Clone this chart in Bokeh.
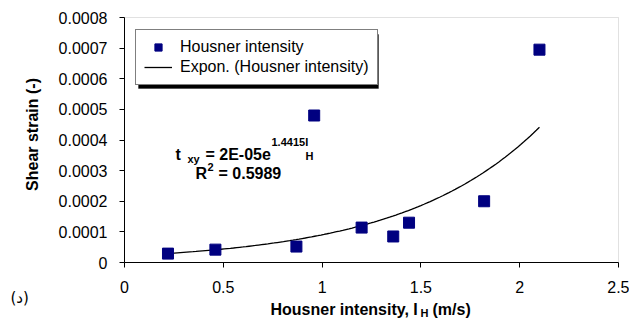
import numpy as np
from bokeh.plotting import figure
from bokeh.models import (Range1d, FixedTicker, Label, Legend, LegendItem, ColumnDataSource,
                          BoxAnnotation)
from bokeh.embed import file_html
from bokeh.resources import INLINE

# ---- data ----
housner_intensity = [0.22, 0.46, 0.87, 0.96, 1.20, 1.36, 1.44, 1.82, 2.10]
shear_strain = [0.000029, 0.000042, 0.000052, 0.000480, 0.000114, 0.000085, 0.000130, 0.000200, 0.000695]

# exponential trend line as printed on the chart (y = a * e^(b*I_H))
trend_a = 2.14e-05
trend_b = 1.4415

x_ticks = [0, 0.5, 1, 1.5, 2, 2.5]
x_tick_labels = ["0", "0.5", "1", "1.5", "2", "2.5"]
y_ticks = [0, 0.0001, 0.0002, 0.0003, 0.0004, 0.0005, 0.0006, 0.0007, 0.0008]
y_tick_labels = ["0", "0.0001", "0.0002", "0.0003", "0.0004", "0.0005", "0.0006", "0.0007", "0.0008"]

X_MAX = 2.5
Y_MAX = 0.0008
FONT = "Liberation Sans"
W, H = 629, 321

# plot-area geometry (pixels) used to place the texts that sit outside the axes
PX_LEFT, PX_RIGHT, PX_TOP, PX_BOTTOM = 124, 618, 17, 262


def dxp(px):
    return (px - PX_LEFT) / (PX_RIGHT - PX_LEFT) * X_MAX


def dyp(py):
    return (PX_BOTTOM - py) / (PX_BOTTOM - PX_TOP) * Y_MAX


p = figure(width=W, height=H, output_backend="svg", toolbar_location=None,
           x_range=Range1d(dxp(0), dxp(W)), y_range=Range1d(dyp(H), dyp(0)),
           min_border=0, min_border_left=0, min_border_right=0,
           min_border_top=0, min_border_bottom=0)
p.background_fill_color = "white"
p.border_fill_color = "white"
p.outline_line_color = None
p.xgrid.visible = False
p.ygrid.visible = False

# grey plot-area border (left/bottom covered by the black axes)
p.add_layout(BoxAnnotation(left=0, right=X_MAX, bottom=0, top=Y_MAX, fill_alpha=0,
                           line_color="#9a9a9a", line_width=1, level="underlay"))

for ax, ticks, labels, bnds in ((p.xaxis[0], x_ticks, x_tick_labels, (0, X_MAX)),
                                (p.yaxis[0], y_ticks, y_tick_labels, (0, Y_MAX))):
    ax.fixed_location = 0
    ax.bounds = bnds
    ax.ticker = FixedTicker(ticks=ticks)
    ax.major_label_overrides = {t: l for t, l in zip(ticks, labels)}
    ax.major_label_text_font = FONT
    ax.major_label_text_font_size = "16px"
    ax.major_label_text_color = "black"
    ax.axis_line_color = "black"
    ax.major_tick_line_color = "black"
    ax.major_tick_in = 0
    ax.major_tick_out = 5
    ax.minor_tick_line_color = None
p.xaxis.major_label_standoff = 13
p.yaxis.major_label_standoff = 12

# trend line
xs = np.linspace(min(housner_intensity), max(housner_intensity), 120)
ys = trend_a * np.exp(trend_b * xs)
ln = p.line(xs, ys, line_color="black", line_width=1.3)

src = ColumnDataSource(dict(x=housner_intensity, y=shear_strain))
sc = p.scatter("x", "y", source=src, marker="square", size=11,
               fill_color="#000080", line_color="#000080")


def lab(x, y, text, size, xo=0, yo=0, bold=True, align="left", baseline="alphabetic",
        angle=0, font=FONT):
    p.add_layout(Label(x=x, y=y, text=text, x_offset=xo, y_offset=yo,
                       text_font=font, text_font_size=size,
                       text_font_style="bold" if bold else "normal",
                       text_align=align, text_baseline=baseline, angle=angle,
                       text_color="black"))


# equation
ex, ey = dxp(175), dyp(154)
lab(ex, ey, "t", "16px")
lab(ex, ey, "xy", "11px", xo=12, yo=-4)
lab(ex, ey, "= 2E-05e", "16px", xo=30)
lab(ex, ey, "1.4415I", "11px", xo=96, yo=13)
lab(ex, ey, "H", "11px", xo=130, yo=-1)
rx, ry = dxp(195), dyp(173)
lab(rx, ry, "R", "16px")
lab(rx, ry, "2", "11px", xo=12, yo=7)
lab(rx, ry, "= 0.5989", "16px", xo=23)

# axis titles
lab(dxp(32), dyp(134), "Shear strain (-)", "16px", align="center", baseline="middle", angle=np.pi / 2)
axx, axy = dxp(270), dyp(309)
lab(axx, axy, "Housner intensity, I", "16px")
lab(axx, axy, "H", "11px", xo=150, yo=-3)
lab(axx, axy, "(m/s)", "16px", xo=162)

# panel letter
lab(dxp(10), dyp(297), "(د)", "15px", bold=False, baseline="middle", font="DejaVu Sans")

# legend drop shadow
p.add_layout(BoxAnnotation(left=dxp(138), right=dxp(378), top=dyp(34), bottom=dyp(88),
                           fill_color="black", fill_alpha=1.0, line_color="black"))

items = [LegendItem(label="Housner intensity", renderers=[sc]),
         LegendItem(label="Expon. (Housner intensity)", renderers=[ln])]
legend = Legend(items=items, location=(135, H - 85), orientation="vertical",
                label_text_font=FONT, label_text_font_size="16px",
                label_text_color="black", glyph_width=28, glyph_height=18,
                label_height=18, label_standoff=8, spacing=2, padding=8, margin=0,
                border_line_color="black", border_line_width=1,
                background_fill_color="white", background_fill_alpha=1.0)
p.add_layout(legend, "center")

open("out.html", "w").write(file_html(p, INLINE))
